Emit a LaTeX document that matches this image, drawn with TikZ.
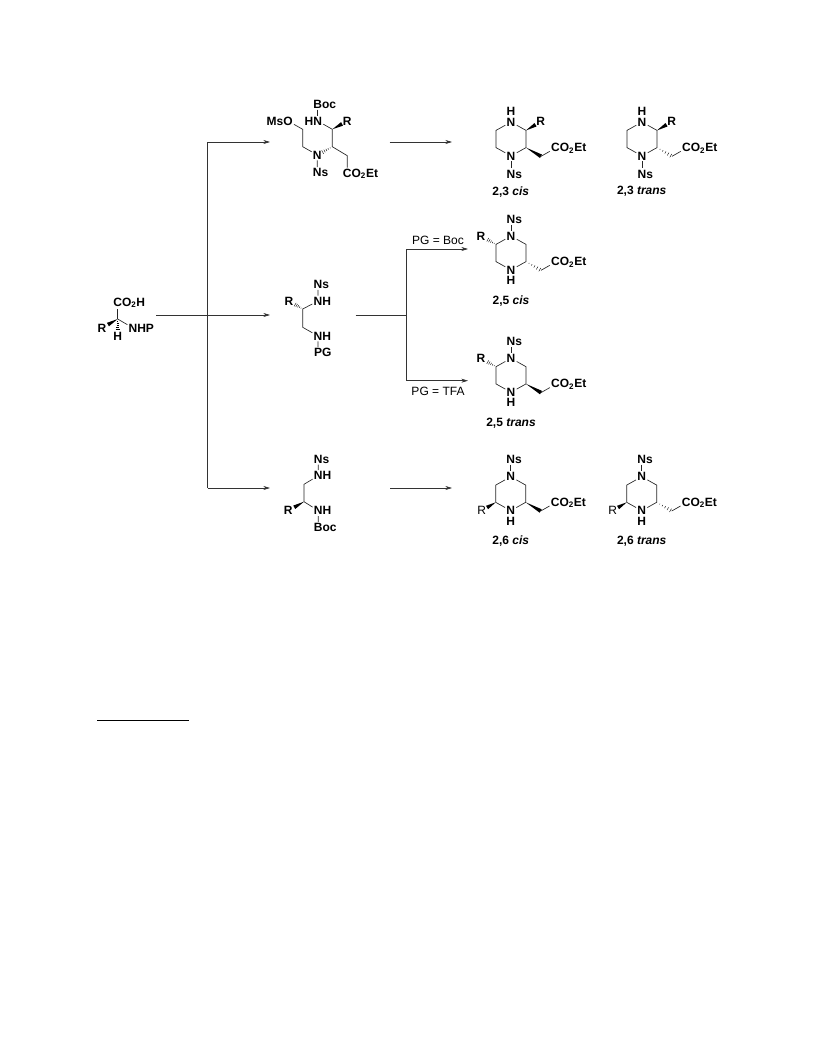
\documentclass[tikz,border=0pt]{standalone}
\usepackage{fontspec}
\setmainfont{Liberation Sans}
\usetikzlibrary{arrows.meta, calc}

\tikzset{
    atom/.style={font=\bfseries\fontsize{9}{10}\selectfont, inner sep=1pt, outer sep=0pt},
    plainatom/.style={font=\fontsize{9}{10}\selectfont, inner sep=1pt, outer sep=0pt},
    caption/.style={font=\bfseries\fontsize{9}{10}\selectfont, inner sep=0pt},
    cond/.style={font=\fontsize{9}{10}\selectfont, inner sep=0pt},
    bond/.style={line width=0.5pt, black!85},
    flow/.style={line width=0.5pt, black!80, -{Stealth[length=5pt,width=3pt]}},
    flowline/.style={line width=0.5pt, black!80}
}

\newcommand{\esterlabel}{C\rlap{O\textsubscript{2}Et}}
\newcommand{\nslabel}{N\rlap{s}}

% solid wedge, narrow end on #2
\newcommand{\wedgebond}[3][1]{
    \coordinate (wE) at ($(#2)!#1!(#3)$);
    \fill[black] ($(#2)$) -- ($(wE)!1.5pt!90:(#2)$) -- ($(wE)!1.5pt!-90:(#2)$) -- cycle;
}
% hashed wedge, narrow end on #2
\newcommand{\hashbond}[3][1]{
    \coordinate (hE) at ($(#2)!#1!(#3)$);
    \foreach \t in {0.2,0.38,...,1.0}
    {
        \coordinate (hP) at ($(#2)!\t!(hE)$);
        \draw[line width=0.3pt] ($(hP)!\t*1.6pt!90:(#2)$) -- ($(hP)!\t*1.6pt!-90:(#2)$);
    }
}
% piperazine ring, top nitrogen at (#2,#3)
\newcommand{\pipring}[3]{
    \node[atom] (#1t) at (#2,#3) {N};
    \node[atom] (#1b) at (#2,#3+34) {N};
    \coordinate (#1r1) at (#2+15,#3+8.4);
    \coordinate (#1r2) at (#2+15,#3+25.6);
    \coordinate (#1l1) at (#2-15,#3+8.4);
    \coordinate (#1l2) at (#2-15,#3+25.6);
    \draw[bond] (#1t) -- (#1r1) -- (#1r2) -- (#1b) -- (#1l2) -- (#1l1) -- (#1t);
}
% CH2-CO2Et on ring carbon #2, #3 = wedge or hash
\newcommand{\esterarm}[3]{
    \coordinate (#1ch) at ($(#2)+(15,8.7)$);
    \node[atom] (#1co) at ($(#2)+(29.5,0.5)$) {\esterlabel};
    #3{#2}{#1ch}
    \draw[bond] (#1ch) -- (#1co);
}

\begin{document}
\begin{tikzpicture}[x=0.75pt, y=-0.75pt]
    \useasboundingbox (0,0) rectangle (816,1056);

    % Flow lines
    \coordinate (startL) at (156,315);
    \coordinate (midA) at (270,315);
    \coordinate (branchT) at (207.7,142);
    \coordinate (branchB) at (207.7,488);
    \coordinate (topA) at (270,142);
    \coordinate (botA) at (270,488);
    \draw[flow] (startL) -- (midA);
    \draw[flowline] (branchT) -- (branchB);
    \draw[flow] (branchT) -- (topA);
    \draw[flow] (branchB) -- (botA);

    \coordinate (rightTL) at (389.5,142);
    \coordinate (rightTR) at (452,142);
    \draw[flow] (rightTL) -- (rightTR);
    \coordinate (rightBL) at (390,488);
    \coordinate (rightBR) at (452,488);
    \draw[flow] (rightBL) -- (rightBR);

    \coordinate (splitL) at (355.7,315);
    \coordinate (splitC) at (406.7,315);
    \coordinate (splitT) at (406.7,249);
    \coordinate (splitB) at (406.7,380.7);
    \coordinate (splitTA) at (468,249);
    \coordinate (splitBA) at (468,380.7);
    \draw[flowline] (splitL) -- (splitC);
    \draw[flowline] (splitT) -- (splitB);
    \draw[flow] (splitT) -- (splitTA);
    \draw[flow] (splitB) -- (splitBA);
    \node[cond] (condBoc) at (438,240) {PG = Boc};
    \node[cond] (condTfa) at (438,391) {PG = TFA};

    % Amino acid
    \coordinate (acidC) at (117.7,319);
    \node[atom] (acidCO) at (117.7,302.7) {C\rlap{O\textsubscript{2}H}};
    \node[atom] (acidR) at (102,328) {R};
    \node[atom] (acidH) at (117.7,336.7) {H};
    \node[atom] (acidN) at (133,328) {N\rlap{HP}};
    \draw[bond] (acidC) -- (acidCO);
    \draw[bond] (acidC) -- (acidN);
    \wedgebond[0.62]{acidC}{acidR}
    \hashbond[0.6]{acidC}{acidH}

    % Open chain, top
    \node[atom] (aBoc) at (317.7,104) {B\rlap{oc}};
    \node[atom] (aN) at (317.7,121) {\llap{H}N};
    \node[atom] (aO) at (288,121) {\llap{Ms}O};
    \coordinate (aC1) at (302.7,129.3);
    \coordinate (aC2) at (302.7,146.7);
    \node[atom] (aN2) at (317.3,155) {N};
    \node[atom] (aNs) at (317.3,172.7) {\nslabel};
    \coordinate (aC3) at (332.3,146.7);
    \coordinate (aC4) at (332.3,129.3);
    \node[atom] (aR) at (347.3,121) {R};
    \coordinate (aCh) at (347.3,155.7);
    \node[atom] (aCO) at (347.3,173.8) {\esterlabel};
    \draw[bond] (aBoc) -- (aN);
    \draw[bond] (aO) -- (aC1) -- (aC2) -- (aN2) -- (aNs);
    \draw[bond] (aN) -- (aC4) -- (aC3) -- (aCh) -- (aCO);
    \wedgebond[0.65]{aC4}{aR}
    \hashbond[0.7]{aC3}{aN2}

    % Open chain, middle
    \node[atom] (bNs) at (318,284.3) {\nslabel};
    \node[atom] (bN) at (318,301) {N\rlap{H}};
    \node[atom] (bR) at (289,301) {R};
    \coordinate (bC1) at (302.7,309);
    \coordinate (bC2) at (302.7,327.3);
    \node[atom] (bN2) at (318,336) {N\rlap{H}};
    \node[atom] (bPG) at (318,352.7) {P\rlap{G}};
    \draw[bond] (bNs) -- (bN) -- (bC1) -- (bC2) -- (bN2) -- (bPG);
    \hashbond[0.6]{bC1}{bR}

    % Open chain, bottom
    \node[atom] (cNs) at (318.3,459) {\nslabel};
    \node[atom] (cN) at (318.3,475.7) {N\rlap{H}};
    \coordinate (cC1) at (304,484.3);
    \coordinate (cC2) at (304,501.7);
    \node[atom] (cR) at (288.3,510.7) {R};
    \node[atom] (cN2) at (318.3,510.7) {N\rlap{H}};
    \node[atom] (cBoc) at (318.3,527.7) {B\rlap{oc}};
    \draw[bond] (cNs) -- (cN) -- (cC1) -- (cC2) -- (cN2) -- (cBoc);
    \wedgebond[0.62]{cC2}{cR}

    % 2,3 cis
    \pipring{d}{511}{122}
    \node[atom] (dH) at (511,111.7) {H};
    \node[atom] (dNs) at (511,174) {\nslabel};
    \node[atom] (dR) at (540.7,121.7) {R};
    \draw[bond] (db) -- (dNs);
    \wedgebond[0.65]{dr1}{dR}
    \esterarm{d}{dr2}{\wedgebond}
    \node[caption] (dCap) at (510.7,191.7) {2,3 \textit{cis}};

    % 2,3 trans
    \pipring{e}{642}{122}
    \node[atom] (eH) at (642,111.7) {H};
    \node[atom] (eNs) at (642,174) {\nslabel};
    \node[atom] (eR) at (671.7,121.7) {R};
    \draw[bond] (eb) -- (eNs);
    \wedgebond[0.65]{er1}{eR}
    \esterarm{e}{er2}{\hashbond}
    \node[caption] (eCap) at (641.7,191.7) {2,3 \textit{trans}};

    % 2,5 cis
    \pipring{f}{511}{236}
    \node[atom] (fNs) at (511,219.3) {\nslabel};
    \node[atom] (fH) at (511,280.3) {H};
    \node[atom] (fR) at (481,236) {R};
    \draw[bond] (fNs) -- (ft);
    \hashbond[0.6]{fl1}{fR}
    \esterarm{f}{fr2}{\hashbond}
    \node[caption] (fCap) at (511,301) {2,5 \textit{cis}};

    % 2,5 trans
    \pipring{g}{511}{358.3}
    \node[atom] (gNs) at (511,341.7) {\nslabel};
    \node[atom] (gH) at (511,402.6) {H};
    \node[atom] (gR) at (481,358.3) {R};
    \draw[bond] (gNs) -- (gt);
    \hashbond[0.6]{gl1}{gR}
    \esterarm{g}{gr2}{\wedgebond}
    \node[caption] (gCap) at (511,423.3) {2,5 \textit{trans}};

    % 2,6 cis
    \pipring{h}{510.7}{476.7}
    \node[atom] (hNs) at (510.7,459) {\nslabel};
    \node[atom] (hH) at (510.7,521) {H};
    \node[plainatom] (hR) at (481.7,510.7) {R};
    \draw[bond] (hNs) -- (ht);
    \wedgebond[0.62]{hl2}{hR}
    \esterarm{h}{hr2}{\wedgebond}
    \node[caption] (hCap) at (510.7,541) {2,6 \textit{cis}};

    % 2,6 trans
    \pipring{k}{641.7}{476.7}
    \node[atom] (kNs) at (641.7,459) {\nslabel};
    \node[atom] (kH) at (641.7,521) {H};
    \node[plainatom] (kR) at (612.7,510.7) {R};
    \draw[bond] (kNs) -- (kt);
    \wedgebond[0.62]{kl2}{kR}
    \esterarm{k}{kr2}{\hashbond}
    \node[caption] (kCap) at (641.7,541) {2,6 \textit{trans}};

    % Footnote rule
    \coordinate (ruleL) at (97,720);
    \coordinate (ruleR) at (189,720);
    \draw[line width=0.6pt] (ruleL) -- (ruleR);
\end{tikzpicture}
\end{document}
